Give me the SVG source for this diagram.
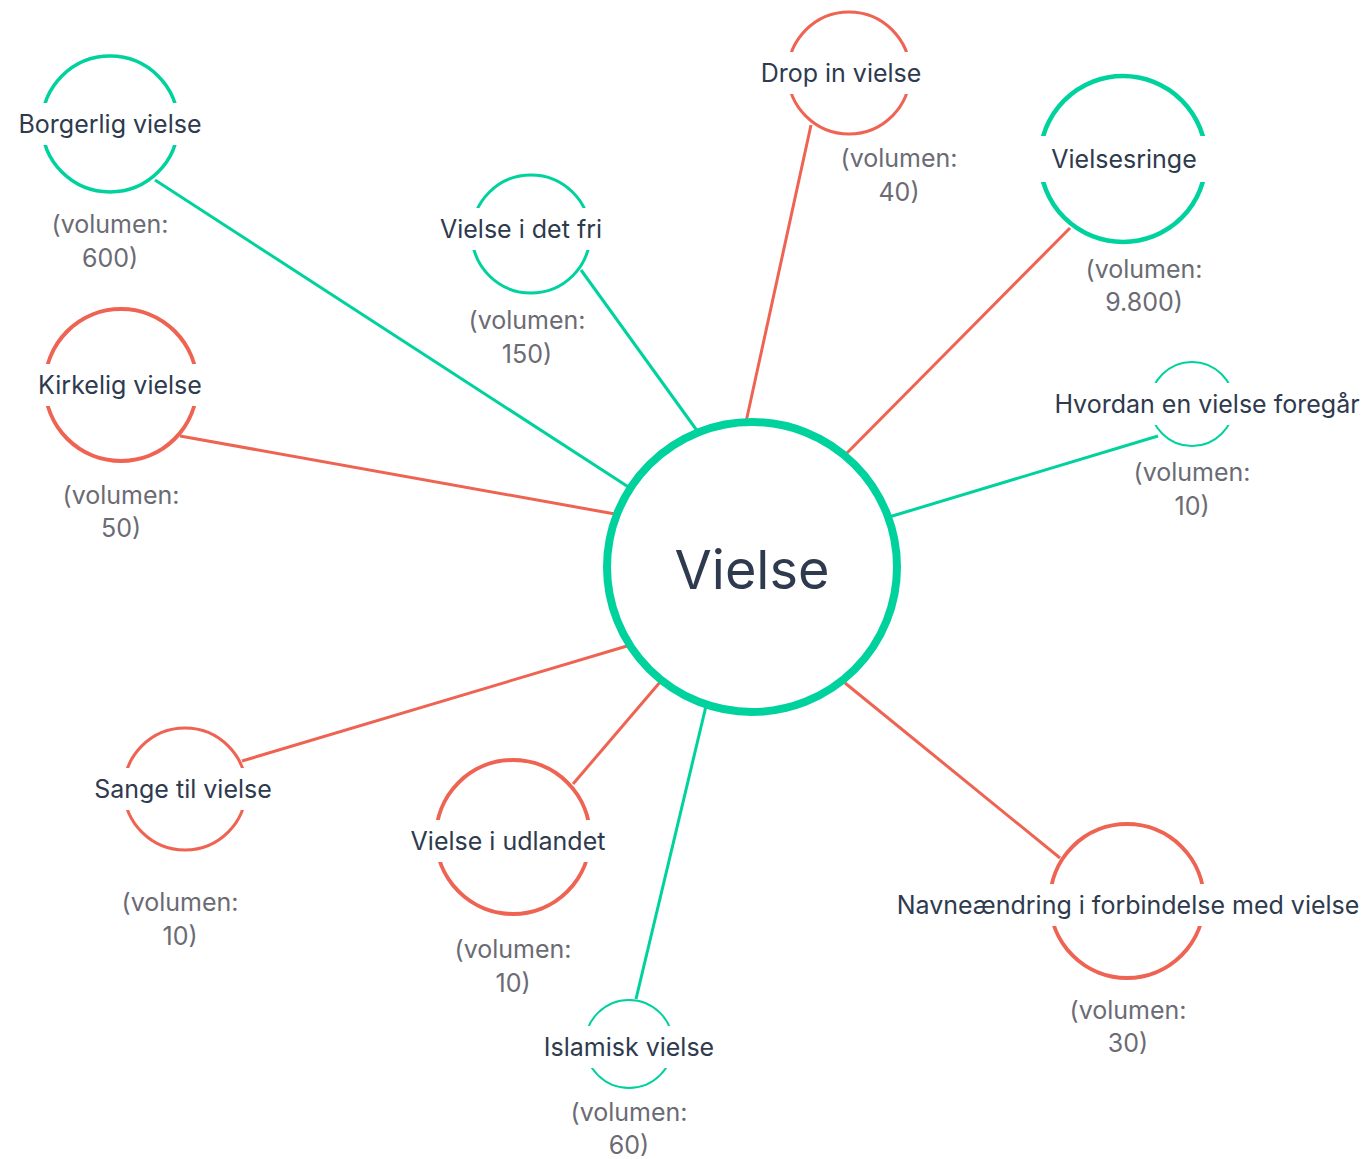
<svg xmlns="http://www.w3.org/2000/svg" width="1363" height="1159" viewBox="0 0 1363 1159">
<style>
.g{stroke:#00D29E;}
.r{stroke:#EE6352;}
.ln{stroke-width:3;fill:none;stroke-linecap:butt;}
.nc{fill:#fff;}
.bg{fill:#fff;}
.lb{font-family:Inter,"Noto Sans","Liberation Sans",sans-serif;font-size:25px;fill:#2E3A4E;text-anchor:middle;dominant-baseline:central;}
.vol{font-family:Inter,"Noto Sans","Liberation Sans",sans-serif;font-size:25px;fill:#6B6B74;text-anchor:middle;}
.main{font-family:Inter,"Noto Sans","Liberation Sans",sans-serif;font-size:54px;fill:#2E3A4E;text-anchor:middle;dominant-baseline:central;}
</style>
<rect width="1363" height="1159" fill="#fff"/>
<g id="connectors">
<line class="ln g" x1="155" y1="180" x2="630" y2="488"/>
<line class="ln r" x1="180" y1="436" x2="615" y2="514"/>
<line class="ln g" x1="581" y1="270" x2="698" y2="432"/>
<line class="ln r" x1="811" y1="125" x2="746" y2="422"/>
<line class="ln r" x1="1070" y1="228" x2="845" y2="455"/>
<line class="ln g" x1="1158" y1="436" x2="889" y2="517"/>
<line class="ln r" x1="242" y1="761" x2="627" y2="646"/>
<line class="ln r" x1="573" y1="784" x2="661" y2="681"/>
<line class="ln g" x1="636" y1="999" x2="706" y2="706"/>
<line class="ln r" x1="1060" y1="858" x2="845" y2="683"/>
</g>
<g id="node-borgerlig">
<circle class="nc g" cx="110" cy="124" r="68" stroke-width="3.5"/>
<rect class="bg" x="17" y="103" width="186" height="42"/>
<text class="lb" x="110" y="124">Borgerlig vielse</text>
<text class="vol" x="110" y="233">(volumen:</text>
<text class="vol" x="110" y="267">600)</text>
</g>
<g id="node-det-fri">
<circle class="nc g" cx="531" cy="234" r="59" stroke-width="3"/>
<rect class="bg" x="442" y="208" width="159" height="42"/>
<text class="lb" x="521" y="229">Vielse i det fri</text>
<text class="vol" x="527" y="329">(volumen:</text>
<text class="vol" x="527" y="363">150)</text>
</g>
<g id="node-drop-in">
<circle class="nc r" cx="849" cy="73" r="61" stroke-width="3"/>
<rect class="bg" x="761" y="52" width="160" height="42"/>
<text class="lb" x="841" y="73">Drop in vielse</text>
<text class="vol" x="899" y="167">(volumen:</text>
<text class="vol" x="899" y="201">40)</text>
</g>
<g id="node-vielsesringe">
<circle class="nc g" cx="1123" cy="159" r="83" stroke-width="4.5"/>
<rect class="bg" x="1034" y="136" width="180" height="46"/>
<text class="lb" x="1124" y="159">Vielsesringe</text>
<text class="vol" x="1144" y="278">(volumen:</text>
<text class="vol" x="1144" y="311">9.800)</text>
</g>
<g id="node-kirkelig">
<circle class="nc r" cx="121" cy="385" r="76" stroke-width="4"/>
<rect class="bg" x="39" y="364" width="163" height="42"/>
<text class="lb" x="120" y="385">Kirkelig vielse</text>
<text class="vol" x="121" y="504">(volumen:</text>
<text class="vol" x="121" y="537">50)</text>
</g>
<g id="node-hvordan">
<circle class="nc g" cx="1192" cy="404" r="42" stroke-width="2"/>
<rect class="bg" x="1055" y="383" width="306" height="42"/>
<text class="lb" x="1207" y="404">Hvordan en vielse foregår</text>
<text class="vol" x="1192" y="481">(volumen:</text>
<text class="vol" x="1192" y="515">10)</text>
</g>
<g id="node-sange">
<circle class="nc r" cx="185" cy="789" r="61" stroke-width="3"/>
<rect class="bg" x="94" y="768" width="178" height="42"/>
<text class="lb" x="183" y="789">Sange til vielse</text>
<text class="vol" x="180" y="911">(volumen:</text>
<text class="vol" x="180" y="945">10)</text>
</g>
<g id="node-udlandet">
<circle class="nc r" cx="513" cy="837" r="77" stroke-width="4"/>
<rect class="bg" x="410" y="820" width="196" height="42"/>
<text class="lb" x="508" y="841">Vielse i udlandet</text>
<text class="vol" x="513" y="958">(volumen:</text>
<text class="vol" x="513" y="992">10)</text>
</g>
<g id="node-islamisk">
<circle class="nc g" cx="629" cy="1044" r="44" stroke-width="2"/>
<rect class="bg" x="544" y="1026" width="170" height="42"/>
<text class="lb" x="629" y="1047">Islamisk vielse</text>
<text class="vol" x="629" y="1121">(volumen:</text>
<text class="vol" x="629" y="1154">60)</text>
</g>
<g id="node-navne">
<circle class="nc r" cx="1127" cy="901" r="77" stroke-width="4"/>
<rect class="bg" x="897" y="884" width="463" height="42"/>
<text class="lb" x="1128" y="905">Navneændring i forbindelse med vielse</text>
<text class="vol" x="1128" y="1019">(volumen:</text>
<text class="vol" x="1128" y="1052">30)</text>
</g>
<g id="node-vielse">
<circle class="nc g" cx="752" cy="567" r="145" stroke-width="8"/>
<text class="main" x="752" y="569">Vielse</text>
</g>
</svg>
